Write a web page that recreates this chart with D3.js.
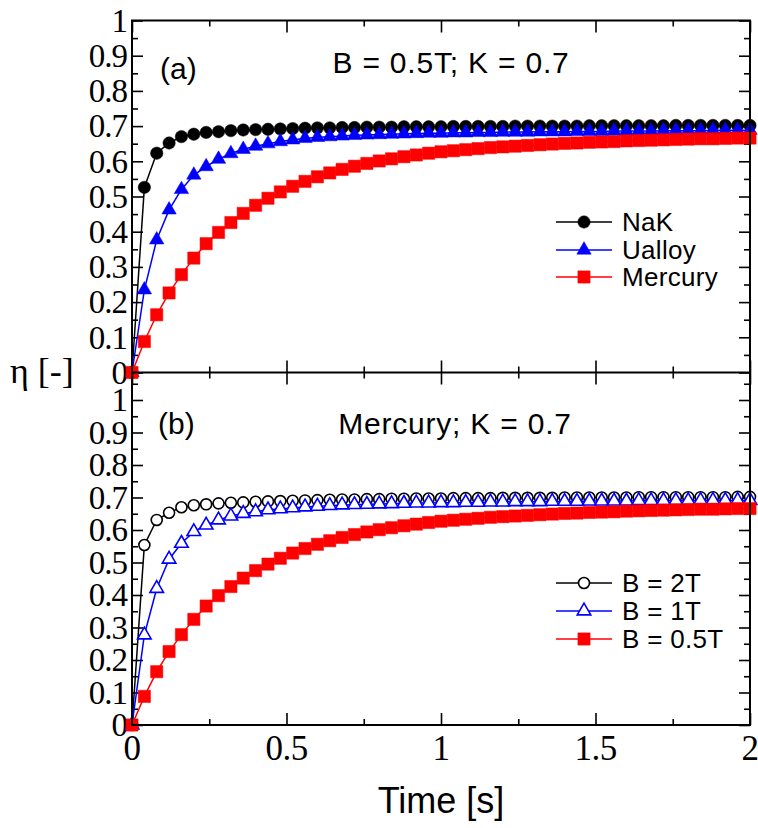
<!DOCTYPE html>
<html>
<head>
<meta charset="utf-8">
<script src="https://cdn.jsdelivr.net/npm/d3@7"></script>
<style>
  html, body { margin: 0; padding: 0; background: #fff; }
  svg { display: block; }
</style>
</head>
<body>
<svg id="chart" width="758" height="828"></svg>
<script>
// Sample times [s]
const time = [0.00, 0.04, 0.08, 0.12, 0.16, 0.20, 0.24, 0.28, 0.32, 0.36, 0.40, 0.44, 0.48, 0.52, 0.56, 0.60,
  0.64, 0.68, 0.72, 0.76, 0.80, 0.84, 0.88, 0.92, 0.96, 1.00, 1.04, 1.08, 1.12, 1.16, 1.20, 1.24, 1.28, 1.32,
  1.36, 1.40, 1.44, 1.48, 1.52, 1.56, 1.60, 1.64, 1.68, 1.72, 1.76, 1.80, 1.84, 1.88, 1.92, 1.96, 2.00];

// (a) B = 0.5T; K = 0.7 — efficiency for three liquid metals
const etaNaK = [0, 0.526, 0.623, 0.652, 0.670, 0.677, 0.682, 0.684, 0.687, 0.689, 0.690, 0.691, 0.692, 0.693,
  0.694, 0.695, 0.695, 0.696, 0.696, 0.697, 0.697, 0.697, 0.698, 0.698, 0.698, 0.698, 0.699, 0.699, 0.699,
  0.699, 0.699, 0.700, 0.700, 0.700, 0.700, 0.700, 0.700, 0.701, 0.701, 0.701, 0.701, 0.701, 0.701, 0.701,
  0.702, 0.702, 0.702, 0.702, 0.702, 0.702, 0.702];
const etaUalloy = [0, 0.235, 0.377, 0.462, 0.520, 0.561, 0.585, 0.606, 0.622, 0.634, 0.643, 0.650, 0.656,
  0.661, 0.665, 0.668, 0.670, 0.672, 0.674, 0.675, 0.676, 0.677, 0.678, 0.679, 0.680, 0.680, 0.681, 0.681,
  0.682, 0.682, 0.683, 0.683, 0.683, 0.684, 0.684, 0.684, 0.685, 0.685, 0.685, 0.686, 0.686, 0.686, 0.686,
  0.687, 0.687, 0.687, 0.687, 0.688, 0.688, 0.688, 0.688];
const etaMercury = [0, 0.088, 0.164, 0.226, 0.278, 0.325, 0.366, 0.398, 0.426, 0.452, 0.475, 0.495, 0.513,
  0.529, 0.543, 0.556, 0.567, 0.577, 0.586, 0.594, 0.601, 0.607, 0.613, 0.618, 0.623, 0.627, 0.630, 0.633,
  0.636, 0.639, 0.641, 0.643, 0.645, 0.647, 0.649, 0.651, 0.652, 0.654, 0.655, 0.656, 0.658, 0.659, 0.660,
  0.661, 0.662, 0.663, 0.664, 0.664, 0.665, 0.666, 0.666];

// (b) Mercury; K = 0.7 — efficiency for three field strengths
const etaB2T = [0, 0.554, 0.631, 0.653, 0.670, 0.676, 0.679, 0.682, 0.684, 0.685, 0.687, 0.688, 0.689, 0.690,
  0.691, 0.692, 0.693, 0.694, 0.694, 0.695, 0.695, 0.696, 0.696, 0.697, 0.697, 0.697, 0.698, 0.698, 0.698,
  0.698, 0.699, 0.699, 0.699, 0.699, 0.699, 0.700, 0.700, 0.700, 0.700, 0.700, 0.700, 0.701, 0.701, 0.701,
  0.701, 0.701, 0.701, 0.701, 0.701, 0.702, 0.702];
const etaB1T = [0, 0.277, 0.420, 0.510, 0.559, 0.595, 0.615, 0.631, 0.643, 0.651, 0.656, 0.662, 0.665, 0.668,
  0.671, 0.673, 0.675, 0.677, 0.678, 0.679, 0.680, 0.681, 0.682, 0.683, 0.683, 0.684, 0.684, 0.685, 0.685,
  0.686, 0.686, 0.687, 0.687, 0.687, 0.688, 0.688, 0.688, 0.689, 0.689, 0.689, 0.689, 0.690, 0.690, 0.690,
  0.690, 0.690, 0.691, 0.691, 0.691, 0.691, 0.691];
const etaB05T = etaMercury;

// Axis ticks
const xMajor = [0, 0.5, 1, 1.5, 2];
const xMinor = [0.25, 0.75, 1.25, 1.75];
const xLabels = ["0", "0.5", "1", "1.5", "2"];
const yMajor = [0, 0.1, 0.2, 0.3, 0.4, 0.5, 0.6, 0.7, 0.8, 0.9, 1];
const yLabels = ["0", "0.1", "0.2", "0.3", "0.4", "0.5", "0.6", "0.7", "0.8", "0.9", "1"];
const yMinorTop = [0.05, 0.15, 0.25, 0.35, 0.45, 0.55, 0.65, 0.75, 0.85, 0.95];
const yMinorBottom = [0.05, 0.15, 0.25, 0.35, 0.45, 0.55, 0.65, 0.75, 0.85, 0.95, 1.05];

const svg = d3.select("#chart");
const L = 132, R = 750;
const topY0 = 20.5, midY = 372.5, botY = 725;

const x = d3.scaleLinear().domain([0, 2]).range([L, R]);
const yA = d3.scaleLinear().domain([0, 1]).range([midY, topY0]);
const yB = d3.scaleLinear().domain([0, 1]).range([botY, 400]);

const serif = "'Liberation Serif', 'Times New Roman', serif";
const sans = "'Liberation Sans', Arial, sans-serif";

function styleAxis(g) {
  g.select(".domain").remove();
  g.selectAll(".tick line").attr("stroke", "#000").attr("stroke-width", 1.6);
  g.selectAll(".tick text").remove();
}

function drawPanel(y, yTop, yBottom, yMinor, withXLabels) {
  const g = svg.append("g");
  // left
  g.append("g").attr("transform", `translate(${L},0)`)
    .call(d3.axisLeft(y).tickValues(yMajor).tickSize(-11)).call(styleAxis);
  g.append("g").attr("transform", `translate(${L},0)`)
    .call(d3.axisLeft(y).tickValues(yMinor).tickSize(-6)).call(styleAxis);
  // right
  g.append("g").attr("transform", `translate(${R},0)`)
    .call(d3.axisRight(y).tickValues(yMajor).tickSize(-11)).call(styleAxis);
  g.append("g").attr("transform", `translate(${R},0)`)
    .call(d3.axisRight(y).tickValues(yMinor).tickSize(-6)).call(styleAxis);
  // top
  g.append("g").attr("transform", `translate(0,${yTop})`)
    .call(d3.axisTop(x).tickValues(xMajor).tickSize(-12)).call(styleAxis);
  g.append("g").attr("transform", `translate(0,${yTop})`)
    .call(d3.axisTop(x).tickValues(xMinor).tickSize(-6)).call(styleAxis);
  // bottom
  g.append("g").attr("transform", `translate(0,${yBottom})`)
    .call(d3.axisBottom(x).tickValues(xMajor).tickSize(-12)).call(styleAxis);
  g.append("g").attr("transform", `translate(0,${yBottom})`)
    .call(d3.axisBottom(x).tickValues(xMinor).tickSize(-6)).call(styleAxis);

  // y tick labels
  g.append("g").selectAll("text").data(yMajor).join("text")
    .attr("x", L - 5).attr("y", d => y(d)).attr("dy", "0.34em")
    .attr("text-anchor", "end")
    .style("font-family", serif).style("font-size", "33px").style("letter-spacing", "-1px")
    .text((d, i) => yLabels[i]);

  if (withXLabels) {
    g.append("g").selectAll("text").data(xMajor).join("text")
      .attr("x", d => x(d)).attr("y", yBottom + 23).attr("dy", "0.34em")
      .attr("text-anchor", "middle")
      .style("font-family", serif).style("font-size", "35px").style("letter-spacing", "-0.5px")
      .text((d, i) => xLabels[i]);
  }
  return g;
}

function drawSeries(g, y, values, color, symbolType, size, filled) {
  const pts = time.map((t, i) => [x(t), y(values[i])]);
  g.append("path").datum(pts)
    .attr("fill", "none").attr("stroke", color).attr("stroke-width", 1.5)
    .attr("d", d3.line());
  g.append("g").selectAll("path").data(pts).join("path")
    .attr("transform", d => `translate(${d[0]},${d[1]})`)
    .attr("d", d3.symbol().type(symbolType).size(size))
    .attr("fill", filled ? color : "#fff")
    .attr("stroke", color).attr("stroke-width", filled ? 0.5 : 1.6);
}

function drawLegend(g, items, x0, rows) {
  items.forEach((it, i) => {
    const yy = rows[i];
    g.append("line").attr("x1", x0).attr("x2", x0 + 56).attr("y1", yy).attr("y2", yy)
      .attr("stroke", it.color).attr("stroke-width", 1.5);
    g.append("path").attr("transform", `translate(${x0 + 28},${yy})`)
      .attr("d", d3.symbol().type(it.type).size(it.size))
      .attr("fill", it.filled ? it.color : "#fff")
      .attr("stroke", it.color).attr("stroke-width", it.filled ? 0.5 : 1.6);
    g.append("text").attr("x", x0 + 66).attr("y", yy).attr("dy", "0.36em")
      .style("font-family", sans).style("font-size", "26px").style("letter-spacing", "0.3px")
      .text(it.label);
  });
}

// ---- Panel (a)
drawPanel(yA, topY0, midY, yMinorTop, false);
const dA = svg.append("g");
drawSeries(dA, yA, etaNaK, "#000", d3.symbolCircle, 120, true);
drawSeries(dA, yA, etaUalloy, "#0000ff", d3.symbolTriangle, 90, true);
drawSeries(dA, yA, etaMercury, "#ff0000", d3.symbolSquare, 150, true);
drawLegend(svg, [
  { label: "NaK", color: "#000", type: d3.symbolCircle, size: 120, filled: true },
  { label: "Ualloy", color: "#0000ff", type: d3.symbolTriangle, size: 90, filled: true },
  { label: "Mercury", color: "#ff0000", type: d3.symbolSquare, size: 150, filled: true }
], 556, [222, 250, 277]);
svg.append("text").attr("x", 160).attr("y", 68).attr("dy", "0.36em")
  .style("font-family", sans).style("font-size", "30px").text("(a)");
svg.append("text").attr("x", 451).attr("y", 62).attr("dy", "0.36em").attr("text-anchor", "middle")
  .style("font-family", sans).style("font-size", "30px").style("letter-spacing", "0.8px")
  .text("B = 0.5T; K = 0.7");

// ---- Panel (b)
drawPanel(yB, midY, botY, yMinorBottom, true);
const dB = svg.append("g");
drawSeries(dB, yB, etaB2T, "#000", d3.symbolCircle, 95, false);
drawSeries(dB, yB, etaB1T, "#0000ff", d3.symbolTriangle, 80, false);
drawSeries(dB, yB, etaB05T, "#ff0000", d3.symbolSquare, 150, true);
drawLegend(svg, [
  { label: "B = 2T", color: "#000", type: d3.symbolCircle, size: 95, filled: false },
  { label: "B = 1T", color: "#0000ff", type: d3.symbolTriangle, size: 80, filled: false },
  { label: "B = 0.5T", color: "#ff0000", type: d3.symbolSquare, size: 150, filled: true }
], 556, [583, 611, 639]);
svg.append("text").attr("x", 158).attr("y", 423).attr("dy", "0.36em")
  .style("font-family", sans).style("font-size", "30px").text("(b)");
svg.append("text").attr("x", 455).attr("y", 423).attr("dy", "0.36em").attr("text-anchor", "middle")
  .style("font-family", sans).style("font-size", "30px").style("letter-spacing", "0.8px")
  .text("Mercury; K = 0.7");

// frames
svg.append("rect").attr("x", L).attr("y", topY0).attr("width", R - L).attr("height", botY - topY0)
  .attr("fill", "none").attr("stroke", "#000").attr("stroke-width", 2);
svg.append("line").attr("x1", L).attr("x2", R).attr("y1", midY).attr("y2", midY)
  .attr("stroke", "#000").attr("stroke-width", 2);

// axis titles
svg.append("text").attr("x", 441).attr("y", 800).attr("dy", "0.36em").attr("text-anchor", "middle")
  .style("font-family", sans).style("font-size", "36px").text("Time [s]");
svg.append("text").attr("x", 10).attr("y", 370).attr("dy", "0.36em")
  .style("font-family", serif).style("font-size", "36px").text("η [-]");
</script>
</body>
</html>
